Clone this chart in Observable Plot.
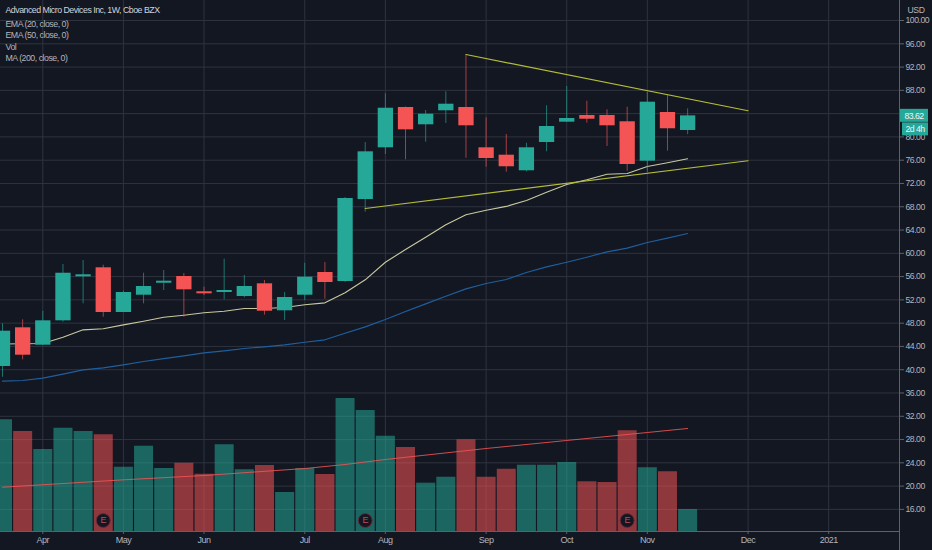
<!DOCTYPE html>
<html>
<head>
<meta charset="utf-8">
<script src="https://cdn.jsdelivr.net/npm/d3@7"></script>
<script src="https://cdn.jsdelivr.net/npm/@observablehq/plot@0.6"></script>
<style>
html,body{margin:0;padding:0;background:#131722;overflow:hidden}
svg{display:block}
</style>
</head>
<body>
<div id="chart"></div>
<script>
const weeks = ["2020-03-16","2020-03-23","2020-03-30","2020-04-06","2020-04-13","2020-04-20","2020-04-27","2020-05-04","2020-05-11","2020-05-18","2020-05-25","2020-06-01","2020-06-08","2020-06-15","2020-06-22","2020-06-29","2020-07-06","2020-07-13","2020-07-20","2020-07-27","2020-08-03","2020-08-10","2020-08-17","2020-08-24","2020-08-31","2020-09-07","2020-09-14","2020-09-21","2020-09-28","2020-10-05","2020-10-12","2020-10-19","2020-10-26","2020-11-02","2020-11-09"];
const open  = [40.55,47.2,44.21,48.4,55.96,57.51,49.83,52.8,54.86,56.02,53.39,53.27,52.58,54.76,50.12,52.8,56.7,55.16,69.24,78.13,85.05,82.08,84.49,85.05,78.13,76.86,74.18,79.04,82.53,83.68,83.68,82.6,75.83,84.2,81.1];
const high  = [47.88,48.57,50.05,58.07,58.76,57.96,53.49,56.58,57.05,56.53,54.18,58.99,56.19,55.33,53.27,58.3,58.42,69.6,79.04,87.41,85.14,84.54,87.75,94.16,83.28,80.42,78.92,85.35,88.66,86.14,84.66,85.11,87.68,87.12,84.83];
const low   = [38.71,41.7,44.21,48.16,51.32,49.02,49.83,51.32,53.61,49.02,52.75,52.01,52.36,49.37,48.46,51.89,52.12,55.0,67.07,76.98,76.07,79.09,82.31,76.34,74.8,73.94,74.0,77.44,82.53,82.36,78.35,74.11,73.94,77.55,80.37];
const close = [46.62,42.49,48.4,56.58,56.31,49.83,53.27,54.3,55.21,53.73,53.04,53.61,54.3,50.05,52.41,55.9,54.98,69.42,77.44,84.93,81.22,83.9,85.62,81.91,76.29,74.87,78.13,81.79,83.16,83.04,81.91,75.26,85.97,81.4,83.62];
// Volume bar tops, read on the price axis the overlay shares
const volume = [31.39,29.38,26.29,29.95,29.38,28.81,23.25,26.85,23.02,23.94,22.04,27.1,22.8,23.54,18.9,23.02,21.99,35.05,32.99,28.57,26.63,20.5,21.53,27.96,21.53,22.9,23.59,23.59,24.05,20.74,20.62,29.5,23.14,22.46,15.98];
const ema20 = [44.41,44.45,44.5,45.58,46.85,47.03,47.71,48.33,49.02,49.37,49.78,50.05,50.52,50.52,50.69,51.15,51.49,53.21,55.45,58.47,60.65,62.77,64.9,66.62,67.41,68.06,69.07,70.5,71.82,72.63,73.59,73.71,74.91,75.55,76.24];
const ema50 = [38.03,38.15,38.54,39.23,39.98,40.33,40.84,41.41,41.92,42.39,42.9,43.25,43.64,43.94,44.28,44.72,45.14,46.27,47.37,48.63,50.0,51.32,52.63,53.9,54.81,55.5,56.7,57.68,58.47,59.33,60.26,60.88,61.86,62.6,63.4];
const volMaWeeks = ["2020-03-16","2020-04-27","2020-05-25","2020-06-29","2020-07-13","2020-07-27","2020-08-31","2020-09-28","2020-10-26","2020-11-09"];
const volMa = [19.81,21.08,21.82,23.02,23.71,24.57,26.46,27.84,29.21,29.9];
const trendTopWeeks = ["2020-08-24","2020-11-30"];
const trendTop = [94.16,84.5];
const trendLowWeeks = ["2020-07-20","2020-11-30"];
const trendLow = [67.7,75.9];
const earningsWeeks = ["2020-04-20","2020-07-20","2020-10-19"];
const tickWeeks = ["2020-03-30","2020-04-27","2020-05-25","2020-06-29","2020-07-27","2020-08-31","2020-09-28","2020-10-26","2020-11-30","2020-12-28"];
const tickLabels = ["Apr","May","Jun","Jul","Aug","Sep","Oct","Nov","Dec","2021"];
const gridPrices = [16,20,24,28,32,36,40,44,48,52,56,60,64,68,72,76,80,84,88,92,96,100];
const labelPrices = [16,20,24,28,32,36,40,44,48,52,56,60,64,68,72,76,80,88,92,96,100];
const title = "Advanced Micro Devices Inc, 1W, Cboe BZX";
const legendLines = ["EMA (20, close, 0)","EMA (50, close, 0)","Vol","MA (200, close, 0)"];

const UP = "#25a898", DOWN = "#f45454", GRID = "#2f333f", AXIS = "#5d616c", TEXT = "#b2b5be";
const FONT = "'Liberation Sans', sans-serif";
const date = s => new Date(s + "T00:00:00Z");
const xDomain = [new Date("2020-03-15T07:19:00Z"), new Date("2021-01-21T14:24:00Z")];
const yDomain = [12.2, 103.44];

const candles = weeks.map((w, i) => ({
  week: date(w), open: open[i], high: high[i], low: low[i], close: close[i],
  volume: volume[i], ema20: ema20[i], ema50: ema50[i], up: close[i] >= open[i]
}));
const tickDates = tickWeeks.map(date);
const labelFor = d => tickLabels[tickDates.findIndex(t => +t === +d)];
const pairs = (ws, vs) => ws.map((w, i) => ({week: date(w), value: vs[i]}));
const color = d => d.up ? UP : DOWN;

// Last-price and countdown badges sit in the right margin, positioned by the y scale
function priceBadge(index, {y}) {
  const g = d3.create("svg:g").attr("font-family", FONT).attr("font-size", 8.7);
  const py = y(close[close.length - 1]);
  g.append("rect").attr("x", 900).attr("y", py - 6.5).attr("width", 28).attr("height", 13).attr("fill", UP);
  g.append("text").attr("x", 914).attr("y", py + 3.2).attr("text-anchor", "middle").attr("fill", "#f0f3fa").text(close[close.length - 1].toFixed(2));
  g.append("rect").attr("x", 902).attr("y", py + 7).attr("width", 26).attr("height", 13).attr("fill", UP);
  g.append("text").attr("x", 915).attr("y", py + 16.7).attr("text-anchor", "middle").attr("fill", "#f0f3fa").text("2d 4h");
  g.append("text").attr("x", 916).attr("y", 13).attr("text-anchor", "middle").attr("fill", TEXT).text("USD");
  return g.node();
}

const chart = Plot.plot({
  width: 932, height: 550,
  marginLeft: 0, marginRight: 33, marginTop: 0, marginBottom: 19,
  style: {background: "#131722", fontFamily: FONT, overflow: "hidden", letterSpacing: "-0.5px"},
  x: {type: "utc", domain: xDomain},
  y: {type: "linear", domain: yDomain},
  marks: [
    Plot.gridX(tickDates, {stroke: GRID, strokeOpacity: 1}),
    Plot.gridY(gridPrices, {stroke: GRID, strokeOpacity: 1}),
    Plot.ruleX(candles, {x: "week", y1: yDomain[0], y2: "volume", stroke: color, strokeOpacity: 0.55, strokeWidth: 19}),
    Plot.line(pairs(volMaWeeks, volMa), {x: "week", y: "value", stroke: DOWN, strokeWidth: 1, strokeOpacity: 0.85}),
    Plot.dot(earningsWeeks.map(date), {x: d => d, frameAnchor: "bottom", dy: -11, r: 7, fill: "#131722", stroke: "#6d2a3c", strokeWidth: 1}),
    Plot.text(earningsWeeks.map(date), {x: d => d, frameAnchor: "bottom", dy: -11, text: () => "E", lineAnchor: "middle", fill: "#b2505f", fontSize: 9}),
    Plot.line(candles, {x: "week", y: "ema50", stroke: "#1f5f9e", strokeWidth: 1.2}),
    Plot.line(candles, {x: "week", y: "ema20", stroke: "#c9c9a0", strokeWidth: 1.1}),
    Plot.ruleX(candles, {x: "week", y1: "low", y2: "high", stroke: color, strokeOpacity: 0.65, strokeWidth: 1}),
    Plot.ruleX(candles, {x: "week", y1: "open", y2: "close", stroke: color, strokeWidth: 15.3}),
    Plot.line(pairs(trendTopWeeks, trendTop), {x: "week", y: "value", stroke: "#b5bc38", strokeWidth: 1.2}),
    Plot.line(pairs(trendLowWeeks, trendLow), {x: "week", y: "value", stroke: "#b5bc38", strokeWidth: 1.2}),
    Plot.ruleY([yDomain[0]], {stroke: AXIS}),
    Plot.ruleX([xDomain[1]], {stroke: AXIS, insetBottom: -19}),
    Plot.axisX({ticks: tickDates, tickFormat: labelFor, tickSize: 3, tickPadding: 2, stroke: AXIS, fill: TEXT, fontSize: 9, label: null}),
    Plot.axisY({anchor: "right", ticks: labelPrices, tickFormat: d => d.toFixed(2), tickSize: 4, tickPadding: 2, stroke: AXIS, fill: TEXT, fontSize: 8.7, label: null}),
    Plot.text([title], {frameAnchor: "top-left", dx: 5, dy: 6, fill: "#d1d4dc", fontSize: 8.8}),
    Plot.text([legendLines.join("\n")], {frameAnchor: "top-left", dx: 5, dy: 18, lineHeight: 1.3, fill: TEXT, fontSize: 8.8}),
    priceBadge
  ]
});
document.getElementById("chart").append(chart);
</script>
</body>
</html>
